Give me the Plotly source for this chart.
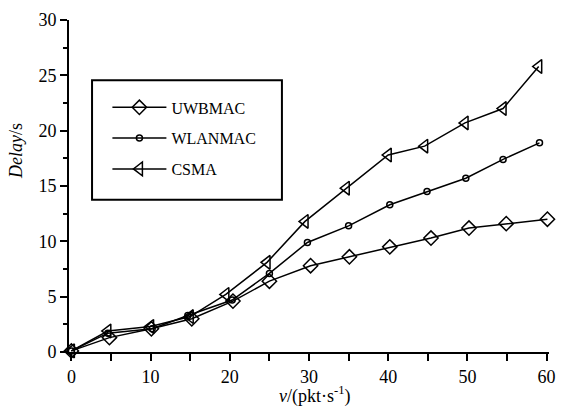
import plotly.graph_objects as go

# Data
uwb_x = [0, 4.8, 10.1, 15.2, 20.4, 25, 30.2, 35.1, 40.2, 45.4, 50.2, 54.9, 60.1]
uwb_y = [0.1, 1.3, 2.1, 3.0, 4.6, 6.4, 7.8, 8.6, 9.5, 10.3, 11.2, 11.6, 12.0]

wlan_x = [0, 4.6, 10.2, 14.7, 20.3, 25, 29.8, 35, 40.2, 44.9, 49.8, 54.5, 59.1]
wlan_y = [0.1, 1.7, 2.1, 3.3, 4.7, 7.1, 9.9, 11.4, 13.3, 14.5, 15.7, 17.4, 18.9]

csma_x = [0, 4.6, 10, 15, 19.5, 24.7, 29.5, 34.7, 40, 44.6, 49.7, 54.5, 59]
csma_y = [0.1, 1.9, 2.3, 3.2, 5.2, 8.1, 11.8, 14.8, 17.8, 18.6, 20.7, 22.0, 25.8]

names = ["UWBMAC", "WLANMAC", "CSMA"]

FONT = "Liberation Serif"

fig = go.Figure()
series = [
    (uwb_x, uwb_y, names[0], "diamond-open", 11),
    (wlan_x, wlan_y, names[1], "circle-open", 6),
    (csma_x, csma_y, names[2], "triangle-left-open", 12),
]
for i, (xs, ys, nm, sym, sz) in enumerate(series):
    fig.add_trace(go.Scatter(
        x=xs, y=ys, name=nm, mode="lines+markers",
        legendgroup=f"g{i}",
        line=dict(color="black", width=1.5),
        marker=dict(symbol=sym, size=sz, color="black",
                    line=dict(color="black", width=1.5)),
        cliponaxis=False,
    ))

fig.update_layout(
    width=566, height=407,
    margin=dict(l=69, r=10, t=16, b=55),
    paper_bgcolor="white", plot_bgcolor="white",
    font=dict(family=FONT, color="black", size=18),
    showlegend=True,
    legend=dict(
        x=0.08, y=0.788, xanchor="left", yanchor="top",
        font=dict(family=FONT, size=16, color="black"),
        bgcolor="rgba(0,0,0,0)", borderwidth=0,
        tracegroupgap=7, itemwidth=54,
    ),
    xaxis=dict(
        range=[-0.3, 60.3], showgrid=False, zeroline=False,
        showline=True, linecolor="black", linewidth=2,
        ticks="outside", ticklen=7, tickwidth=1.5, tickcolor="black",
        tick0=0, dtick=10,
        minor=dict(ticks="outside", ticklen=7, tickwidth=1.5,
                   tickcolor="black", dtick=5, tick0=0, showgrid=False),
        tickfont=dict(family=FONT, size=18, color="black"),
    ),
    yaxis=dict(
        range=[0, 30], showgrid=False, zeroline=False,
        showline=True, linecolor="black", linewidth=2,
        ticks="outside", ticklen=7, tickwidth=1.5, tickcolor="black",
        tick0=0, dtick=5,
        minor=dict(ticks="outside", ticklen=4, tickwidth=1.5,
                   tickcolor="black", dtick=2.5, tick0=0, showgrid=False),
        tickfont=dict(family=FONT, size=18, color="black"),
    ),
    shapes=[dict(
        type="rect", xref="paper", yref="paper",
        x0=0.048, x1=0.4436, y0=0.4583, y1=0.8185,
        line=dict(color="black", width=2), fillcolor="rgba(0,0,0,0)",
    )],
    annotations=[
        dict(text="<i>Delay</i>/s", xref="paper", yref="paper",
             x=-0.11, y=0.606, textangle=-90, showarrow=False,
             xanchor="center", yanchor="middle",
             font=dict(family=FONT, size=18, color="black")),
        dict(text="<i>v</i>/(pkt·s<sup>-1</sup>)", xref="paper", yref="paper",
             x=0.513, y=-0.13, showarrow=False,
             xanchor="center", yanchor="middle",
             font=dict(family=FONT, size=18, color="black")),
    ],
)

fig.write_html(
    "out.html",
    config={"displayModeBar": False},
    post_script="document.body.style.margin='0px';document.body.style.overflow='hidden';",
)
